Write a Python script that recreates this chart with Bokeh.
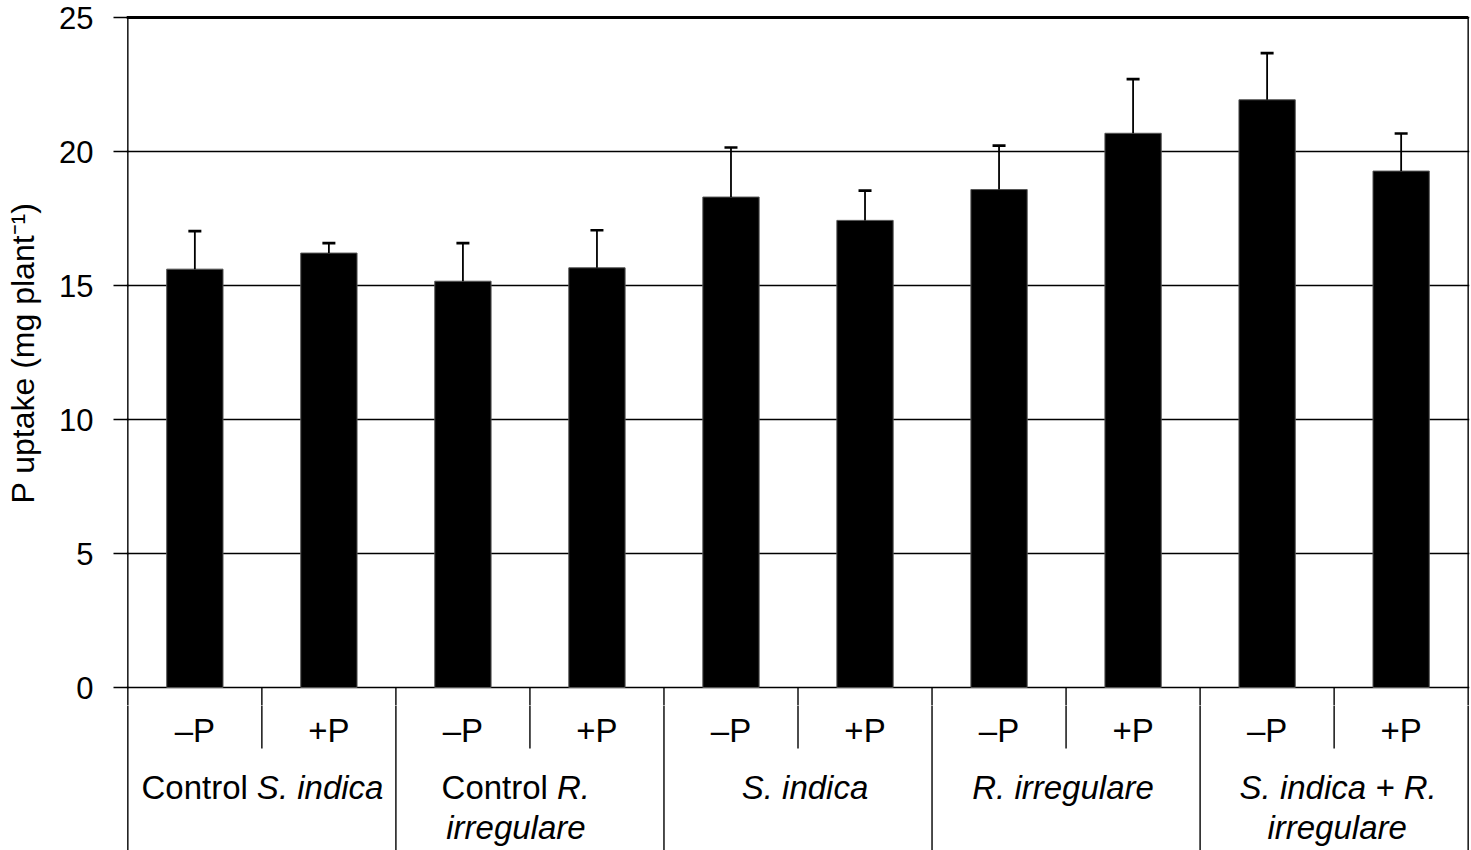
from bokeh.plotting import figure
from bokeh.layouts import column
from bokeh.models import (Range1d, FixedTicker, ColumnDataSource, Whisker, TeeHead)
from bokeh.core.properties import value
from bokeh.embed import file_html
from bokeh.resources import INLINE

# ---- data ----
treatments = ["Control S. indica", "Control R. irregulare", "S. indica",
              "R. irregulare", "S. indica + R. irregulare"]
p_levels = ["\u2013P", "+P"]
means = [15.61, 16.21, 15.16, 15.66, 18.30, 17.43, 18.58, 20.68, 21.93, 19.27]
errors = [1.42, 0.37, 1.42, 1.40, 1.85, 1.11, 1.64, 2.02, 1.74, 1.40]
y_ticks = [0, 5, 10, 15, 20, 25]
y_title = "P uptake (mg plant\u207b\u00b9)"

# group label pieces (mixed roman / italic)
label_group = [0, 0, 1, 1, 1, 2, 3, 4, 4]
label_text = ["Control", "S. indica", "Control", "R.", "irregulare", "S. indica",
              "R. irregulare", "S. indica + R.", "irregulare"]
label_style = ["normal", "italic", "normal", "italic", "italic", "italic",
               "italic", "italic", "italic"]
label_align = ["right", "left", "right", "left", "center", "center",
               "center", "center", "center"]
label_dx = [-14, -5, 18, 27, -14, 7, -3, 4, 3]
label_row = [1, 1, 1, 1, 2, 1, 1, 1, 2]

FONT = "Liberation Sans"
PX = 26.8                      # pixels per y unit
TOP_H = 705
BOT_H = 850 - TOP_H
TOP_Y1 = 25 + 17 / PX
TOP_Y0 = TOP_Y1 - TOP_H / PX
BOT_Y1 = TOP_Y0
BOT_Y0 = BOT_Y1 - BOT_H / PX
ROW_Y = {0: -1.6, 1: -3.73, 2: -5.22}
SUB_SEP_BOTTOM = -2.28
TABLE_BOTTOM = -7.0
LW = 1.4

n_groups = len(treatments)
n_bars = len(means)
x_pos = [i + 0.5 for i in range(n_bars)]
sub_x = [2 * g + 1 for g in range(n_groups)]
inner_x = [2 * g for g in range(1, n_groups)]
border_x = [0, 2 * n_groups]

xr = Range1d(-0.01, 10.01)


def table_lines(fig):
    # separators of the category table (clipped to each figure's frame)
    fig.segment(x0=sub_x, y0=[0] * len(sub_x), x1=sub_x,
                y1=[SUB_SEP_BOTTOM] * len(sub_x), line_color="black", line_width=LW)
    fig.segment(x0=inner_x, y0=[0] * len(inner_x), x1=inner_x,
                y1=[TABLE_BOTTOM] * len(inner_x), line_color="black", line_width=LW)
    fig.segment(x0=border_x, y0=[25] * 2, x1=border_x,
                y1=[TABLE_BOTTOM] * 2, line_color="black", line_width=LW)


# ---------------- top figure: bars ----------------
p = figure(width=1471, height=TOP_H, output_backend="svg", toolbar_location=None,
           x_range=xr, y_range=Range1d(TOP_Y0, TOP_Y1),
           x_axis_location=None, min_border_left=126, min_border_right=2,
           min_border_top=0, min_border_bottom=0)
p.outline_line_color = None
p.background_fill_color = "white"
p.border_fill_color = "white"
p.xgrid.visible = False

yax = p.yaxis[0]
yax.ticker = FixedTicker(ticks=y_ticks)
yax.major_tick_in = 2
yax.major_tick_out = 13
yax.minor_tick_line_color = None
yax.axis_line_color = None
yax.major_tick_line_width = LW
yax.major_tick_line_color = "black"
yax.major_label_text_font = FONT
yax.major_label_text_font_size = "31px"
yax.major_label_text_color = "black"
yax.major_label_standoff = 20
yax.axis_label = y_title
yax.axis_label_text_font = FONT
yax.axis_label_text_font_size = "32px"
yax.axis_label_text_font_style = "normal"
yax.axis_label_text_color = "black"
yax.axis_label_standoff = 15

p.ygrid.ticker = FixedTicker(ticks=y_ticks)
p.ygrid.grid_line_color = "black"
p.ygrid.grid_line_width = LW

# heavy top line
p.segment(x0=[xr.start], y0=[25], x1=[10], y1=[25], line_color="black", line_width=3)
table_lines(p)

src = ColumnDataSource(dict(x=x_pos, top=means,
                            upper=[m + e for m, e in zip(means, errors)],
                            lower=means))
p.vbar(x="x", top="top", bottom=0, width=0.42, source=src,
       fill_color="black", line_color="#555555", line_width=1)
p.add_layout(Whisker(base="x", upper="upper", lower="lower", source=src,
                     line_color="black", line_width=1.8,
                     upper_head=TeeHead(size=13, line_width=2.6, line_color="black"),
                     lower_head=None, level="overlay"))

# ---------------- bottom figure: category table ----------------
b = figure(width=1471, height=BOT_H, output_backend="svg", toolbar_location=None,
           x_range=xr, y_range=Range1d(BOT_Y0, BOT_Y1),
           x_axis_location=None, y_axis_location=None,
           min_border_left=126, min_border_right=2,
           min_border_top=0, min_border_bottom=0)
b.outline_line_color = None
b.background_fill_color = "white"
b.border_fill_color = "white"
b.xgrid.visible = False
b.ygrid.visible = False
table_lines(b)

b.text(x=x_pos, y=[ROW_Y[0]] * n_bars, text=p_levels * n_groups,
       text_align="center", text_baseline="middle", text_font=value(FONT),
       text_font_size="33px", text_color="black")

lsrc = ColumnDataSource(dict(
    x=[2 * g + 1 for g in label_group],
    y=[ROW_Y[r] for r in label_row],
    text=label_text, style=label_style, align=label_align, dx=label_dx))
b.text(x="x", y="y", text="text", x_offset="dx", text_align="align",
       text_font_style="style", text_baseline="middle", text_font=value(FONT),
       text_font_size="33px", text_color="black", source=lsrc)

layout = column(p, b, spacing=0)
open("out.html", "w").write(file_html(layout, INLINE))
